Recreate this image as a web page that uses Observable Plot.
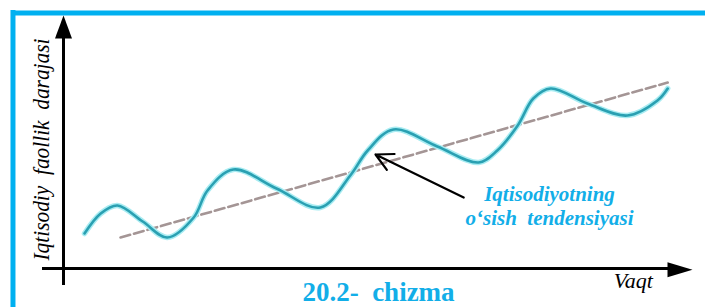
<!DOCTYPE html>
<html>
<head>
<meta charset="utf-8">
<script src="https://cdn.jsdelivr.net/npm/d3@7"></script>
<script src="https://cdn.jsdelivr.net/npm/@observablehq/plot@0.6"></script>
<style>
  body { margin: 0; background: #fff; font-family: "Liberation Serif", serif; }
  @font-face { font-family: "ChartSerif"; font-style: normal; font-weight: 400; src: local("Liberation Serif"), local("LiberationSerif"); }
  @font-face { font-family: "ChartSerif"; font-style: italic; font-weight: 400; src: local("Liberation Serif Italic"), local("LiberationSerif-Italic"); }
  @font-face { font-family: "ChartSerif"; font-style: normal; font-weight: 700; src: local("Liberation Serif Bold"), local("LiberationSerif-Bold"); }
  @font-face { font-family: "ChartSerif"; font-style: italic; font-weight: 700; src: local("Liberation Serif Bold Italic"), local("LiberationSerif-BoldItalic"); }
</style>
</head>
<body>
<div id="chart"></div>
<script>
// Economic activity wave (time t, level v)
const waveT = [0.35, 0.62, 0.9, 1.32, 1.73, 2.17, 2.4, 2.83, 3.55, 4.28, 4.78, 5.07, 5.5, 6.23, 6.92, 7.23, 7.57, 7.83, 8.12, 8.73, 9.4, 9.9, 10.07];
const waveV = [1.4, 2.2, 2.52, 1.88, 1.24, 2.04, 3.12, 3.96, 3.2, 2.44, 3.72, 4.72, 5.56, 4.88, 4.24, 4.72, 5.72, 6.8, 7.2, 6.6, 6.12, 6.72, 7.2];
// Growth trend
const trendT = [0.95, 10.07];
const trendV = [1.24, 7.44];
// Annotation arrow (from label to trend)
const arrowFrom = [6.67, 2.84];
const arrowTo = [5.2, 4.56];
// Texts
const yLabel = "Iqtisodiy  faollik  darajasi";
const xLabel = "Vaqt";
const noteLines = ["Iqtisodiyotning", "o‘sish  tendensiyasi"];
const caption = "20.2-  chizma";

const wave = waveT.map((t, i) => ({t, v: waveV[i]}));
const trend = trendT.map((t, i) => ({t, v: trendV[i]}));

function tri(k) {
  return {draw(ctx, size) {
    const s = Math.sqrt(size / Math.PI);
    ctx.moveTo(0, -s); ctx.lineTo(k * s, s); ctx.lineTo(-k * s, s); ctx.closePath();
  }};
}

const serif = "Liberation Serif";
const cyan = "#12aee8";
const frameCyan = "#00b0f0";
const plot = Plot.plot({
  width: 705, height: 307,
  marginTop: 0, marginRight: 0, marginBottom: 0, marginLeft: 0,
  style: {fontFamily: "Liberation Serif"},
  x: {domain: [0, 10], range: [63, 663], axis: null},
  y: {domain: [0, 10], range: [268, 18], axis: null},
  marks: [
    // page frame (top and left cyan bars)
    Plot.ruleY([10.22], {x1: -0.85, x2: 10.8, stroke: frameCyan, strokeWidth: 5}),
    Plot.ruleX([-0.842], {y1: 10.32, y2: -1.7, stroke: frameCyan, strokeWidth: 5}),
    // axes
    Plot.ruleX([0], {y1: -0.68, y2: 9.9, stroke: "#000", strokeWidth: 3}),
    Plot.ruleY([0], {x1: -0.35, x2: 10.1, stroke: "#000", strokeWidth: 3}),
    Plot.dot([{t: 0, v: 9.66}], {x: "t", y: "v", r: 11.5, symbol: tri(0.74), fill: "#000", stroke: "none"}),
    Plot.dot([{t: 10.275, v: -0.05}], {x: "t", y: "v", r: 12.5, symbol: tri(0.6), fill: "#000", stroke: "none", rotate: 90}),
    // trend
    Plot.line(trend, {x: "t", y: "v", stroke: "#a49595", strokeWidth: 2.6, strokeDasharray: "10,4"}),
    // wave
    Plot.line(wave, {x: "t", y: "v", curve: "catmull-rom", stroke: "#a8ecf2", strokeWidth: 5.5}),
    Plot.line(wave, {x: "t", y: "v", curve: "catmull-rom", stroke: "#2aa0b2", strokeWidth: 2.6}),
    // annotation arrow
    Plot.arrow([{x1: arrowFrom[0], y1: arrowFrom[1], x2: arrowTo[0], y2: arrowTo[1]}],
      {x1: "x1", y1: "y1", x2: "x2", y2: "y2", stroke: "#000", strokeWidth: 2.2, headLength: 13, headAngle: 55}),
    // texts
    Plot.text([yLabel], {x: -0.25, y: 0.32, text: d => d, rotate: -90, fontFamily: serif, fontSize: 24, fontStyle: "italic", fill: "#000", textAnchor: "start", lineAnchor: "bottom"}),
    Plot.text([xLabel], {x: 9.17, y: -0.76, text: d => d, fontFamily: serif, fontSize: 22, fontStyle: "italic", fill: "#000", textAnchor: "start", lineAnchor: "bottom"}),
    Plot.text([noteLines[0]], {x: 8.1, y: 2.72, text: d => d, fontFamily: serif, fontSize: 21, fontStyle: "italic", fontWeight: "bold", fill: cyan, textAnchor: "middle", lineAnchor: "bottom"}),
    Plot.text([noteLines[1]], {x: 8.1, y: 1.76, text: d => d, fontFamily: serif, fontSize: 21, fontStyle: "italic", fontWeight: "bold", fill: cyan, textAnchor: "middle", lineAnchor: "bottom"}),
    Plot.text([caption], {x: 5.25, y: -1.28, text: d => d, fontFamily: serif, fontSize: 27, fontWeight: "bold", fill: cyan, textAnchor: "middle", lineAnchor: "bottom"})
  ]
});
plot.removeAttribute("font-family");
plot.querySelectorAll("g[font-family]").forEach(g => g.setAttribute("font-family", '"Liberation Serif", ChartSerif, serif'));
plot.querySelectorAll("text").forEach(el => {
  el.style.fontFamily = '"Liberation Serif", ChartSerif, serif';
  if (el.textContent === yLabel) {
    el.setAttribute("textLength", "222");
    el.setAttribute("lengthAdjust", "spacingAndGlyphs");
  }
});
document.getElementById("chart").appendChild(plot);
</script>
</body>
</html>
